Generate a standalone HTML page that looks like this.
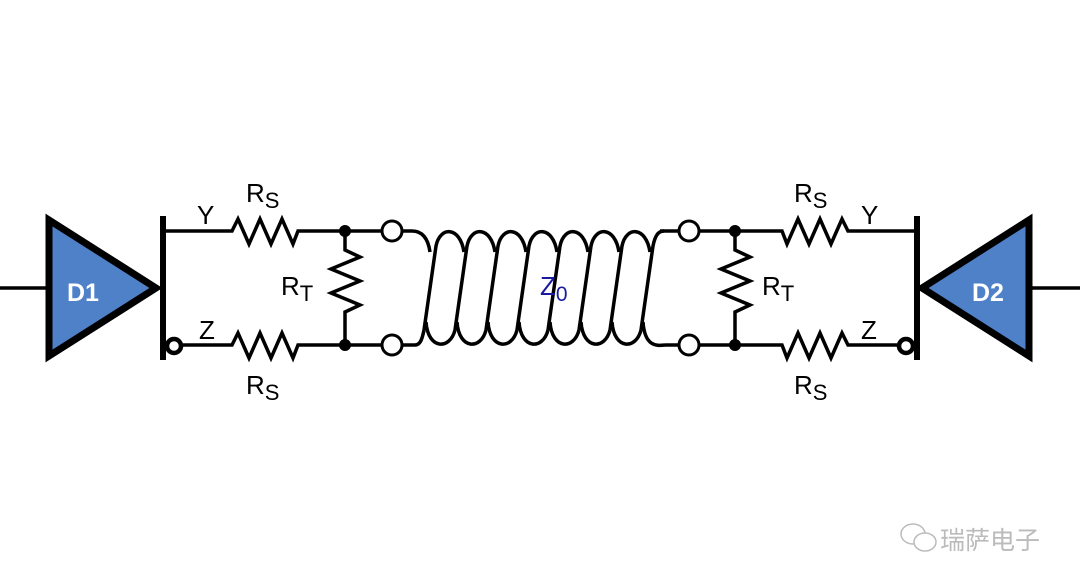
<!DOCTYPE html>
<html><head><style>
html,body{margin:0;padding:0;background:#fff;}
svg{display:block;font-family:"Liberation Sans",Arial,sans-serif;}
</style></head><body>
<svg width="1080" height="586" viewBox="0 0 1080 586" xmlns="http://www.w3.org/2000/svg">
<rect width="1080" height="586" fill="#fff"/>
<g stroke="#000" stroke-width="3.5" fill="none" stroke-linejoin="miter">
<line x1="0" y1="288" x2="47" y2="288"/>
<line x1="1031" y1="288" x2="1080" y2="288"/>
<path d="M163 231 H232 L238 219 L249 244 L260 219 L271 244 L282 219 L293 244 L298 231 H383"/>
<path d="M182 345 H232 L238 333 L249 358 L260 333 L271 358 L282 333 L293 358 L298 345 H383"/>
<path d="M345 231 V250 L360 257 L331 269 L360 281 L331 293 L360 305 L345 312 V345"/>
<path d="M918 231 H848 L842 219 L831 244 L820 219 L809 244 L798 219 L787 244 L782 231 H698"/>
<path d="M898 345 H848 L842 333 L831 358 L820 333 L809 358 L798 333 L787 358 L782 345 H698"/>
<path d="M735 231 V250 L750 257 L721 269 L750 281 L721 293 L750 305 L735 312 V345"/>
<path d="M401 231 H412 C422 231 428 238 430 252"/>
<path d="M401 345 H415 C420 345 422 340 424 330"/>
<path d="M660 231 H679"/>
<path d="M666 345 H679"/>
<path d="M424 330 L436 246 C440 226 460 226 464 252"/>
<path d="M455 330 L467 246 C471 226 491 226 495 252"/>
<path d="M486 330 L498 246 C502 226 522 226 526 252"/>
<path d="M517 330 L529 246 C533 226 553 226 557 252"/>
<path d="M548 330 L560 246 C564 226 584 226 588 252"/>
<path d="M579 330 L591 246 C595 226 615 226 619 252"/>
<path d="M610 330 L622 246 C626 226 646 226 650 252"/>
<path d="M641 330 L653 246 C655 236 658 231 664 231"/>
<path d="M426 322 C428 350 450 350 455 330"/>
<path d="M457 322 C459 350 481 350 486 330"/>
<path d="M488 322 C490 350 512 350 517 330"/>
<path d="M519 322 C521 350 543 350 548 330"/>
<path d="M550 322 C552 350 574 350 579 330"/>
<path d="M581 322 C583 350 605 350 610 330"/>
<path d="M612 322 C614 350 636 350 641 330"/>
<path d="M643 322 C645 350 660 345 666 345"/>
<circle cx="392" cy="231" r="10" fill="#fff" stroke-width="3"/>
<circle cx="392" cy="345" r="10" fill="#fff" stroke-width="3"/>
<circle cx="689" cy="231" r="10" fill="#fff" stroke-width="3"/>
<circle cx="689" cy="345" r="10" fill="#fff" stroke-width="3"/>
</g>
<circle cx="345" cy="231" r="6" fill="#000"/>
<circle cx="345" cy="345" r="6" fill="#000"/>
<circle cx="735" cy="231" r="6" fill="#000"/>
<circle cx="735" cy="345" r="6" fill="#000"/>
<polygon points="49,220 49,356 156,288" fill="#4f81c9" stroke="#000" stroke-width="7" stroke-linejoin="miter"/>
<polygon points="1029,220 1029,356 922,288" fill="#4f81c9" stroke="#000" stroke-width="7" stroke-linejoin="miter"/>
<line x1="163" y1="216" x2="163" y2="360" stroke="#000" stroke-width="6"/>
<line x1="917" y1="216" x2="917" y2="360" stroke="#000" stroke-width="6"/>
<circle cx="174" cy="346" r="7" fill="#fff" stroke="#000" stroke-width="4.5"/>
<circle cx="906" cy="346" r="7" fill="#fff" stroke="#000" stroke-width="4.5"/>
<text x="67" y="301" font-size="25" font-weight="bold" fill="#fff">D1</text>
<text x="972" y="301" font-size="25" font-weight="bold" fill="#fff">D2</text>
<g font-size="26" fill="#000">
<text x="246" y="202">R<tspan font-size="22" dy="6">S</tspan></text>
<text x="246" y="394">R<tspan font-size="22" dy="6">S</tspan></text>
<text x="794" y="202">R<tspan font-size="22" dy="6">S</tspan></text>
<text x="794" y="394">R<tspan font-size="22" dy="6">S</tspan></text>
<text x="281" y="295">R<tspan font-size="22" dy="6">T</tspan></text>
<text x="762" y="295">R<tspan font-size="22" dy="6">T</tspan></text>
<text x="197" y="224">Y</text>
<text x="199" y="339">Z</text>
<text x="861" y="224">Y</text>
<text x="861" y="339">Z</text>
</g>
<text x="540" y="295" font-size="26" fill="#1a1aa0">Z<tspan font-size="21" dy="6">0</tspan></text>
<g stroke="#bbb" stroke-width="1.5" fill="#fff">
<ellipse cx="913" cy="534" rx="12" ry="10"/>
<ellipse cx="925" cy="542" rx="11" ry="9"/>
</g>
<text x="940" y="549" font-size="25" fill="#bbb" font-family="'Liberation Sans','Noto Sans CJK SC',sans-serif">瑞萨电子</text>
</svg>
</body></html>
